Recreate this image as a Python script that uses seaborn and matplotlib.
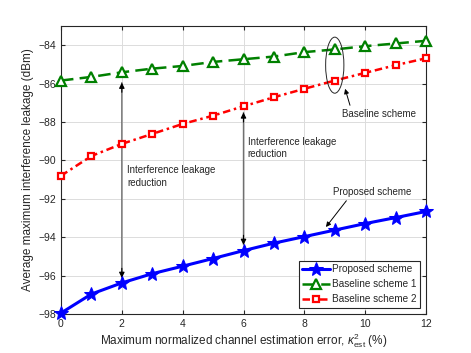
import pandas as pd
import matplotlib
matplotlib.use("Agg")
import matplotlib.pyplot as plt
from matplotlib.patches import Ellipse
import seaborn as sns

# estimation error kappa^2_est (%)
error_pct = [0, 1, 2, 3, 4, 5, 6, 7, 8, 9, 10, 11, 12]

proposed = [-97.95, -96.96, -96.38, -95.90, -95.51, -95.11, -94.70,
            -94.31, -93.97, -93.63, -93.29, -92.98, -92.66]
baseline1 = [-85.84, -85.65, -85.41, -85.22, -85.08, -84.87, -84.73,
             -84.59, -84.36, -84.22, -84.05, -83.91, -83.77]
baseline2 = [-90.80, -89.77, -89.14, -88.62, -88.10, -87.67, -87.18,
             -86.71, -86.27, -85.84, -85.44, -85.04, -84.68]

series_names = ["Proposed scheme", "Baseline scheme 1", "Baseline scheme 2"]
x_ticks = [0, 2, 4, 6, 8, 10, 12]
y_ticks = [-98, -96, -94, -92, -90, -88, -86, -84]

sns.set_style("ticks")
plt.rcParams['font.family'] = ['Liberation Sans', 'DejaVu Sans']
plt.rcParams['mathtext.fontset'] = 'custom'
plt.rcParams['mathtext.rm'] = 'Liberation Sans'
plt.rcParams['mathtext.it'] = 'Liberation Sans:italic'

fig = plt.figure(figsize=(4.71, 3.53), dpi=100)
ax = fig.add_axes([0.1295, 0.1105, 0.775, 0.8158])

styles = [
    dict(color='blue', linestyle='-', marker='*', markersize=10, linewidth=2.2,
         markerfacecolor='blue', markeredgecolor='blue'),
    dict(color='green', linestyle=(0, (5, 2.5)), marker='^', markersize=7.5, linewidth=1.8,
         markerfacecolor='white', markeredgecolor='green', markeredgewidth=1.6),
    dict(color='red', linestyle=(0, (3, 1.5, 1, 1.5)), marker='s', markersize=5, linewidth=1.8,
         markerfacecolor='white', markeredgecolor='red', markeredgewidth=1.6),
]

for name, vals, st in zip(series_names, [proposed, baseline1, baseline2], styles):
    df = pd.DataFrame({'x': error_pct, 'y': vals})
    sns.lineplot(data=df, x='x', y='y', ax=ax, label=name, clip_on=False, zorder=5, **st)

ax.set_xlim(0, 12)
ax.set_ylim(-98, -83)
ax.set_xticks(x_ticks)
ax.set_yticks(y_ticks)
ax.tick_params(direction='in', labelsize=7.5, top=True, right=True, length=3, colors='#262626')
ax.grid(True, color='#dcdcdc', linewidth=0.7)
for sp in ax.spines.values():
    sp.set_visible(True)
    sp.set_color('#262626')
    sp.set_linewidth(0.8)

ax.set_xlabel(r'Maximum normalized channel estimation error, $\kappa^2_{\mathrm{est}}$ (%)',
              fontsize=8.5, color='#262626', labelpad=2)
ax.set_ylabel('Average maximum interference leakage (dBm)', fontsize=8.5, color='#262626', labelpad=3)

# double-headed reduction arrows: gray shaft, black heads
shaft = dict(arrowstyle='-', color='#707070', lw=1.0, shrinkA=0, shrinkB=0)
head = dict(arrowstyle='-|>', color='black', lw=0.8, mutation_scale=8, shrinkA=0, shrinkB=0)
for xa, top, bot in [(2, -85.95, -96.12), (6, -87.5, -94.4)]:
    ax.annotate('', xy=(xa, top), xytext=(xa, bot), arrowprops=shaft)
    ax.annotate('', xy=(xa, top), xytext=(xa, top - 0.5), arrowprops=head)
    ax.annotate('', xy=(xa, bot), xytext=(xa, bot + 0.5), arrowprops=head)

ax.text(2.17, -90.85, 'Interference leakage\nreduction', fontsize=7, color='#262626',
        va='center', ha='left', linespacing=1.35)
ax.text(6.14, -89.35, 'Interference leakage\nreduction', fontsize=7, color='#262626',
        va='center', ha='left', linespacing=1.35)

ax.add_patch(Ellipse((9, -85.04), 0.6, 2.92, fill=False, edgecolor='#262626', lw=0.7, zorder=6))
ax.annotate('Baseline scheme', xy=(9.34, -86.27), xytext=(9.24, -87.56),
            fontsize=7, color='#262626', va='center', ha='left',
            arrowprops=dict(arrowstyle='-|>', color='black', lw=0.7, mutation_scale=7,
                            shrinkA=0, shrinkB=0, relpos=(0.12, 1.0)))
ax.annotate('Proposed scheme', xy=(8.71, -93.47), xytext=(8.95, -91.67),
            fontsize=7, color='#262626', va='center', ha='left',
            arrowprops=dict(arrowstyle='-|>', color='black', lw=0.7, mutation_scale=7,
                            shrinkA=0, shrinkB=0, relpos=(0.2, 0.0)))

leg = ax.legend(loc='lower right', fontsize=7.2, frameon=True, fancybox=False, framealpha=1,
                edgecolor='#262626', handlelength=2.8, borderpad=0.35, labelspacing=0.5,
                handletextpad=0.2, borderaxespad=0.6)
leg.get_frame().set_linewidth(0.8)
leg.set_zorder(10)

fig.savefig('out.png', dpi=100)
